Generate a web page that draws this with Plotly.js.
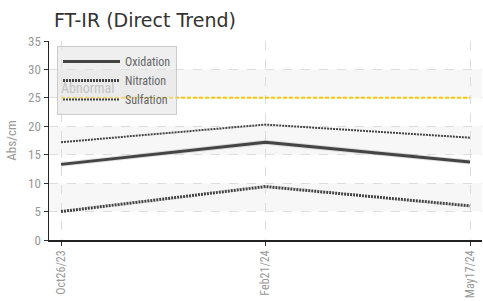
<!DOCTYPE html>
<html><head><meta charset="utf-8">
<script src="https://cdn.plot.ly/plotly-3.0.1.min.js"></script>
<style>html,body{margin:0;padding:0;background:#fff}#c{width:483px;height:301px}</style>
</head><body><div id="c"></div>
<script>
const dates = ["Oct26/23", "Feb21/24", "May17/24"];
const oxidation = [13.3, 17.2, 13.7];
const nitration = [5.0, 9.4, 6.0];
const sulfation = [17.2, 20.3, 18.0];
const abnormal = [25, 25, 25];
const yTicks = [0, 5, 10, 15, 20, 25, 30, 35];
const bands = [[5, 10], [15, 20], [25, 30]];

const cond = "Liberation Sans Narrow, Roboto Condensed, Arial Narrow, sans-serif";
const traces = [
  {x: dates, y: abnormal, mode: "lines", showlegend: false, hoverinfo: "skip",
   line: {color: "#ffc600", width: 2, dash: "4px,2px"}},
  {x: dates, y: oxidation, mode: "lines", showlegend: false, hoverinfo: "skip",
   line: {color: "rgba(0,0,0,0.12)", width: 5}},
  {x: dates, y: oxidation, mode: "lines", name: "Oxidation",
   line: {color: "#444", width: 3}},
  {x: dates, y: nitration, mode: "lines", name: "Nitration",
   line: {color: "#444", width: 3, dash: "2px,1px"}},
  {x: dates, y: sulfation, mode: "lines", name: "Sulfation",
   line: {color: "#444", width: 2, dash: "2px,1px"}}
];
const shapes = bands.map(b => ({type: "rect", xref: "paper", yref: "y", x0: 0, x1: 1,
  y0: b[0], y1: b[1], fillcolor: "#f7f7f7", line: {width: 0}, layer: "below"}));
const layout = {
  width: 483, height: 301,
  margin: {l: 49, r: 1, t: 41, b: 61},
  paper_bgcolor: "#fff", plot_bgcolor: "#fff",
  title: {text: "FT-IR (Direct Trend)", font: {family: "DejaVu Sans", size: 19, color: "#333"},
          x: 54/483, xanchor: "left", xref: "container", y: 1 - 20/301, yanchor: "middle", yref: "container"},
  xaxis: {type: "category", range: [-0.0587, 2.0587], tickangle: -90,
          showgrid: true, gridcolor: "#ddd", griddash: "dash", gridwidth: 1,
          showline: true, linecolor: "#222", linewidth: 1.5,
          ticks: "outside", ticklen: 4, tickcolor: "#333",
          tickfont: {family: cond, size: 12, color: "#999"}, zeroline: false},
  yaxis: {range: [0, 35], tickvals: yTicks, showgrid: true, gridcolor: "#ddd", griddash: "dash",
          showline: true, linecolor: "#222", linewidth: 1.5,
          ticks: "outside", ticklen: 4, tickcolor: "#333", zeroline: false,
          tickfont: {family: cond, size: 13, color: "#999"},
          title: {text: "Abs/cm", font: {family: cond, size: 13, color: "#999"}, standoff: 8}},
  shapes: shapes,
  annotations: [{x: 0, y: 25, xref: "x", yref: "y", text: "Abnormal", showarrow: false,
    xanchor: "left", yanchor: "bottom", xshift: -2, yshift: 0,
    font: {family: cond, size: 14, color: "#c4c4c4"}}],
  legend: {x: 8/433, y: (240-46)/199, xanchor: "left", yanchor: "top",
    bgcolor: "rgba(225,225,225,0.55)", bordercolor: "#ccc", borderwidth: 1,
    font: {family: cond, size: 12, color: "#666"}, itemwidth: 57, tracegroupgap: 0}
};
Plotly.newPlot("c", traces, layout, {displayModeBar: false, staticPlot: true});
</script></body></html>
